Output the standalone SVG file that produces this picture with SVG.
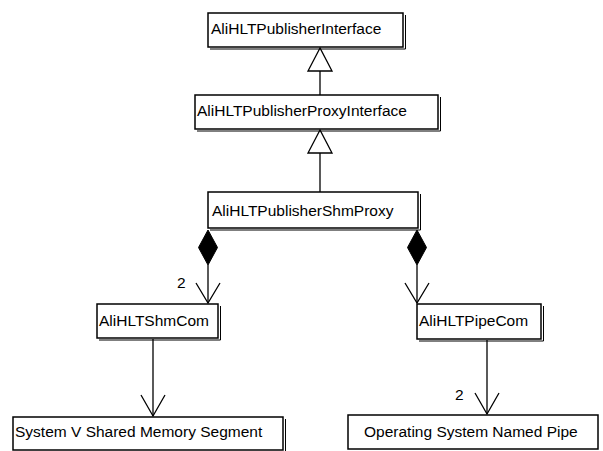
<svg xmlns="http://www.w3.org/2000/svg" width="603" height="451" viewBox="0 0 603 451">
<style>
.box{fill:#fff;stroke:#000;stroke-width:1.5}
.sh{fill:none;stroke:#000;stroke-width:1}
.t{font-family:"Liberation Sans",Arial,sans-serif;font-size:15.5px;fill:#000}
.ln{fill:none;stroke:#000;stroke-width:1.3}
.gen{fill:#fff;stroke:#000;stroke-width:1.3}
.dia{fill:#000;stroke:#000;stroke-width:1}
</style>
<rect width="603" height="451" fill="#fff"/>
<g id="connectors">
<line class="ln" x1="320" y1="71" x2="320" y2="95"/>
<polygon class="gen" points="320,48 308,71 332,71"/>
<line class="ln" x1="320" y1="153" x2="320" y2="192"/>
<polygon class="gen" points="320,130 308,153 332,153"/>
<line class="ln" x1="208" y1="265" x2="208" y2="303"/>
<polygon class="dia" points="208,230 217.5,247.5 208,265 198.5,247.5"/>
<polyline class="ln" points="196,283 208,303 220,283"/>
<text class="t" x="177" y="288">2</text>
<line class="ln" x1="417" y1="265" x2="417" y2="303"/>
<polygon class="dia" points="417,230 426.5,247.5 417,265 407.5,247.5"/>
<polyline class="ln" points="405,283 417,303 429,283"/>
<line class="ln" x1="153" y1="339" x2="153" y2="416"/>
<polyline class="ln" points="141,395 153,416 165,395"/>
<line class="ln" x1="487" y1="340" x2="487" y2="414"/>
<polyline class="ln" points="475,393 487,414 499,393"/>
<text class="t" x="455" y="400">2</text>
</g>
<g id="n1">
<rect class="box" x="208" y="13" width="195" height="34"/>
<polyline class="sh" points="405.5,15 405.5,49 210,49"/>
<text class="t" x="211" y="34">AliHLTPublisherInterface</text>
</g>
<g id="n2">
<rect class="box" x="195" y="95" width="243" height="34"/>
<polyline class="sh" points="440.5,97 440.5,131 197,131"/>
<text class="t" x="197" y="116">AliHLTPublisherProxyInterface</text>
</g>
<g id="n3">
<rect class="box" x="208" y="192" width="210" height="36"/>
<polyline class="sh" points="420.5,194 420.5,230 210,230"/>
<text class="t" x="212" y="216">AliHLTPublisherShmProxy</text>
</g>
<g id="n4">
<rect class="box" x="97" y="304" width="121" height="34"/>
<polyline class="sh" points="220.5,306 220.5,340 99,340"/>
<text class="t" x="99" y="326">AliHLTShmCom</text>
</g>
<g id="n5">
<rect class="box" x="417" y="304" width="124" height="35"/>
<polyline class="sh" points="543.5,306 543.5,341 419,341"/>
<text class="t" x="419" y="326">AliHLTPipeCom</text>
</g>
<g id="n6">
<rect class="box" x="13" y="417" width="270" height="33"/>
<polyline class="sh" points="285.5,419 285.5,452"/>
<text class="t" x="15" y="437">System V Shared Memory Segment</text>
</g>
<g id="n7">
<rect class="box" x="348" y="415" width="250" height="34"/>
<text class="t" x="364" y="437">Operating System Named Pipe</text>
</g>
</svg>
